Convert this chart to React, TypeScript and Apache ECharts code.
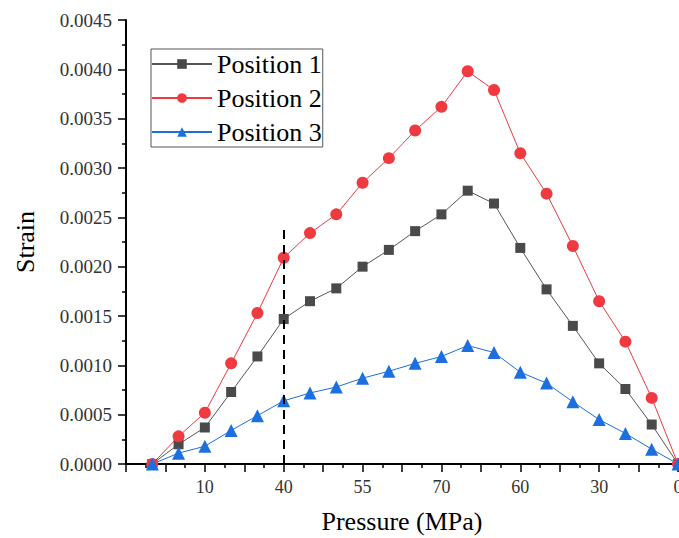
import React, { useEffect, useRef } from "react";
import * as echarts from "echarts";

// Pressure at each measuring step (loading 0→75 MPa, then unloading 75→0)
const pressures = [0, 5, 10, 20, 30, 40, 45, 50, 55, 60, 65, 70, 75, 70, 60, 50, 40, 30, 20, 10, 0];

const position1 = [0, 0.0002, 0.00037, 0.00073, 0.00109, 0.00147, 0.00165, 0.00178, 0.002, 0.00217, 0.00236, 0.00253, 0.00277, 0.00264, 0.00219, 0.00177, 0.0014, 0.00102, 0.00076, 0.0004, 0];
const position2 = [0, 0.00028, 0.00052, 0.00102, 0.00153, 0.00209, 0.00234, 0.00253, 0.00285, 0.0031, 0.00338, 0.00362, 0.00398, 0.00379, 0.00315, 0.00274, 0.00221, 0.00165, 0.00124, 0.00067, 0];
const position3 = [0, 0.00011, 0.00018, 0.00034, 0.00049, 0.00064, 0.00072, 0.00078, 0.00087, 0.00094, 0.00102, 0.00109, 0.0012, 0.00113, 0.00093, 0.00082, 0.00063, 0.00045, 0.00031, 0.00015, 0];

const seriesNames = ["Position 1", "Position 2", "Position 3"];
const dashedMarkerStep = 5; // index of the 40 MPa loading step
const dashedTop = 0.00238;

const FONT = "Liberation Serif";

const toPoints = (vals: number[]) => vals.map((v, i) => [i + 1, v]);

export default function App() {
  const ref = useRef<HTMLDivElement>(null);

  useEffect(() => {
    if (!ref.current) return;
    const chart = echarts.init(ref.current, undefined, { renderer: "svg" });
    const option: any = {
      animation: false,
      backgroundColor: "#ffffff",
      textStyle: { fontFamily: FONT },
      grid: { left: 126, right: 1, top: 20, bottom: 74, outerBoundsMode: "none", containLabel: false },
      legend: {
        orient: "vertical",
        left: 151,
        top: 49,
        padding: [0, 1, 0, 0],
        itemGap: 4,
        itemWidth: 60,
        itemHeight: 12,
        borderColor: "#555555",
        borderWidth: 1,
        textStyle: { fontFamily: FONT, fontSize: 26, color: "#000", lineHeight: 30 },
        data: seriesNames,
      },
      xAxis: {
        type: "value",
        min: 0,
        max: pressures.length,
        interval: 1.5,
        name: "Pressure (MPa)",
        nameLocation: "middle",
        nameGap: 44,
        nameTextStyle: { fontFamily: FONT, fontSize: 26, color: "#000" },
        axisLine: { show: true, lineStyle: { color: "#000", width: 2 } },
        axisTick: { show: true, length: 8, lineStyle: { color: "#000", width: 1.5 } },
        minorTick: { show: true, splitNumber: 2, length: 4, lineStyle: { color: "#000", width: 1.5 } },
        splitLine: { show: false },
        axisLabel: {
          showMinLabel: true,
          showMaxLabel: true,
          fontFamily: FONT,
          fontSize: 18,
          color: "#333",
          margin: 14,
          formatter: (v: number) => {
            const k = Math.round(v);
            if (Math.abs(v - k) < 1e-6 && k > 0 && k % 3 === 0) return String(pressures[k - 1]);
            return "";
          },
        },
      },
      yAxis: {
        type: "value",
        min: 0,
        max: 0.0045,
        interval: 0.0005,
        name: "Strain",
        nameLocation: "middle",
        nameGap: 88,
        nameTextStyle: { fontFamily: FONT, fontSize: 26, color: "#000" },
        axisLine: { show: true, lineStyle: { color: "#000", width: 2 } },
        axisTick: { show: true, length: 8, lineStyle: { color: "#000", width: 1.5 } },
        minorTick: { show: true, splitNumber: 2, length: 4, lineStyle: { color: "#000", width: 1.5 } },
        splitLine: { show: false },
        axisLabel: {
          fontFamily: FONT,
          fontSize: 19,
          color: "#333",
          margin: 14,
          formatter: (v: number) => v.toFixed(4),
        },
      },
      series: [
        {
          name: seriesNames[0],
          type: "line",
          data: toPoints(position1),
          symbol: "rect",
          symbolSize: 10,
          itemStyle: { color: "#4a4a4a" },
          lineStyle: { color: "#555555", width: 1 },
          markLine: {
            silent: true,
            symbol: ["none", "none"],
            label: { show: false },
            lineStyle: { color: "#000", width: 2, type: [9, 6] },
            data: [[{ coord: [dashedMarkerStep + 1, 0] }, { coord: [dashedMarkerStep + 1, dashedTop] }]],
          },
        },
        {
          name: seriesNames[1],
          type: "line",
          data: toPoints(position2),
          symbol: "circle",
          symbolSize: 12,
          itemStyle: { color: "#ef3a40" },
          lineStyle: { color: "#ef3a40", width: 1 },
        },
        {
          name: seriesNames[2],
          type: "line",
          data: toPoints(position3),
          symbol: "triangle",
          symbolSize: 13,
          itemStyle: { color: "#1c6fdf" },
          lineStyle: { color: "#1c6fdf", width: 1 },
        },
      ],
    };
    chart.setOption(option);
    return () => chart.dispose();
  }, []);

  return (
    <div
      ref={ref}
      style={{ position: "absolute", left: 0, top: 0, width: 679, height: 538, background: "#fff" }}
    />
  );
}
